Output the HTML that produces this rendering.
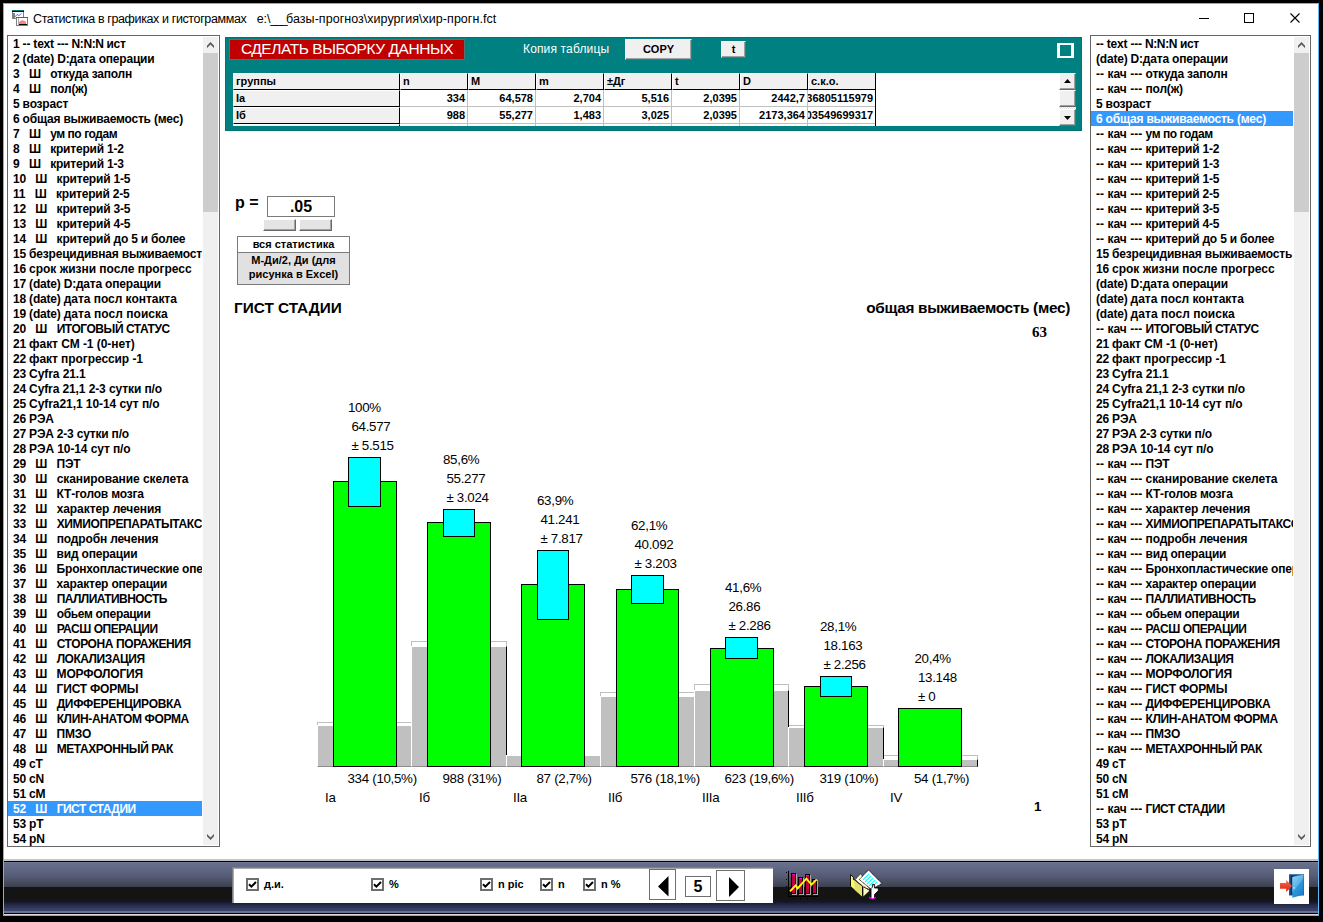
<!DOCTYPE html><html><head><meta charset="utf-8"><title>stat</title><style>
*{box-sizing:border-box;margin:0;padding:0}
html,body{width:1323px;height:922px;overflow:hidden;background:#000;}
body{position:relative;font-family:"Liberation Sans",sans-serif;color:#000;}
.abs{position:absolute}
#win{position:absolute;left:3px;top:3px;width:1316px;height:913px;background:#fff;border:1px solid #62bbf8;}
#title{position:absolute;left:33px;top:12px;font-size:12.5px;line-height:15px;white-space:pre;color:#000;}
.lb{position:absolute;top:35px;height:812px;border:1px solid #666;background:#fff;overflow:hidden;}
.lb .rows{position:absolute;left:0;top:0;}
.lb .r{height:15px;line-height:17px;font-size:12px;font-weight:bold;white-space:pre;padding-left:5px;letter-spacing:-0.2px;overflow:hidden;}
.lb .sel{background:#3399ff;color:#fff;}
.lb .foc{outline:1px dotted #d07018;outline-offset:-1px;}
.sb{position:absolute;top:1px;right:1px;width:15px;height:808px;background:#f0f0f0;}
.sb .th{position:absolute;left:0;width:15px;background:#cdcdcd;}
.tx{position:absolute;white-space:pre;}
.ct{position:absolute;white-space:pre;font-size:13.33px;line-height:16px;height:16px;letter-spacing:-0.3px;}
.b3{position:absolute;background:#f0f0f0;border-top:1px solid #fff;border-left:1px solid #fff;border-right:1px solid #696969;border-bottom:1px solid #696969;box-shadow:inset -1px -1px 0 #a0a0a0;}
</style></head><body>
<div id="win"></div>
<svg class="abs" style="left:12px;top:9px" width="17" height="18" viewBox="0 0 17 18" shape-rendering="crispEdges"><rect x="0" y="1" width="12" height="9" fill="#808080"/><rect x="1" y="2" width="10" height="7" fill="#fff"/><rect x="0" y="1" width="12" height="1" fill="#008080"/><rect x="0" y="2" width="12" height="1" fill="#000"/><rect x="1" y="4" width="2" height="5" fill="#808080"/><polyline points="2.5,8.5 5,5.5 7,6.5 9.5,4.5" fill="none" stroke="#6868ff" stroke-width="1" shape-rendering="auto"/><rect x="4" y="8" width="12" height="9" fill="#808080"/><rect x="5" y="9" width="10" height="7" fill="#fff"/><rect x="4" y="8" width="12" height="1" fill="#008080"/><rect x="5" y="9" width="2" height="7" fill="#fff"/><rect x="6" y="9" width="1" height="7" fill="#b0b0b0"/><path d="M7 15 L7 13 Q10.5 9.5 14 13 L14 15 Z" fill="#ff8080" shape-rendering="auto"/><rect x="7" y="15" width="8" height="1" fill="#000"/></svg>
<div id="title"><span style="letter-spacing:-0.38px">Статистика в графиках и гистограммах</span>   <span style="letter-spacing:-0.12px">e:\</span><span style="letter-spacing:-1.7px">___</span><span style="letter-spacing:0.04px">базы-прогноз\хирургия\хир-прогн.fct</span></div>
<svg class="abs" style="left:1190px;top:8px" width="120" height="22" viewBox="0 0 120 22"><rect x="9" y="10" width="10" height="1" fill="#000"/><rect x="54.5" y="5.5" width="9" height="9" fill="none" stroke="#000" stroke-width="1"/><path d="M100.5 5.5 L109.5 14.5 M109.5 5.5 L100.5 14.5" stroke="#000" stroke-width="1.1" fill="none"/></svg>
<div class="lb" style="left:7px;width:213px"><div class="rows" style="width:194px">
<div class="r">1 -- text --- <span style="letter-spacing:-0.378px">N:N:N ист</span></div>
<div class="r">2 (date) D:дата операции</div>
<div class="r">3   Ш   откуда заполн</div>
<div class="r">4   Ш   пол(ж)</div>
<div class="r">5 возраст</div>
<div class="r">6 общая выживаемость (мес)</div>
<div class="r">7   Ш   <span style="letter-spacing:-0.436px">ум по годам</span></div>
<div class="r">8   Ш   критерий 1-2</div>
<div class="r">9   Ш   критерий 1-3</div>
<div class="r">10   Ш   критерий 1-5</div>
<div class="r">11   Ш   критерий 2-5</div>
<div class="r">12   Ш   критерий 3-5</div>
<div class="r">13   Ш   критерий 4-5</div>
<div class="r">14   Ш   критерий до 5 и более</div>
<div class="r">15 безрецидивная выживаемость</div>
<div class="r">16 <span style="letter-spacing:-0.024px">срок жизни после прогресс</span></div>
<div class="r">17 (date) D:дата операции</div>
<div class="r">18 (date) <span style="letter-spacing:-0.033px">дата посл контакта</span></div>
<div class="r">19 (date) <span style="letter-spacing:0.037px">дата посл поиска</span></div>
<div class="r">20   Ш   <span style="letter-spacing:-0.447px">ИТОГОВЫЙ СТАТУС</span></div>
<div class="r">21 <span style="letter-spacing:-0.050px">факт СМ -1 (0-нет)</span></div>
<div class="r">22 <span style="letter-spacing:-0.078px">факт прогрессир -1</span></div>
<div class="r">23 <span style="letter-spacing:-0.080px">Cyfra 21.1</span></div>
<div class="r">24 <span style="letter-spacing:-0.104px">Cyfra 21,1 2-3 сутки п/о</span></div>
<div class="r">25 <span style="letter-spacing:-0.065px">Cyfra21,1 10-14 сут п/о</span></div>
<div class="r">26 РЭА</div>
<div class="r">27 РЭА 2-3 сутки п/о</div>
<div class="r">28 <span style="letter-spacing:-0.100px">РЭА 10-14 сут п/о</span></div>
<div class="r">29   Ш   ПЭТ</div>
<div class="r">30   Ш   <span style="letter-spacing:-0.065px">сканирование скелета</span></div>
<div class="r">31   Ш   КТ-голов мозга</div>
<div class="r">32   Ш   <span style="letter-spacing:-0.062px">характер лечения</span></div>
<div class="r">33   Ш   <span style="letter-spacing:-0.350px">ХИМИОПРЕПАРАТЫТАКСОЛ</span></div>
<div class="r">34   Ш   <span style="letter-spacing:-0.133px">подробн лечения</span></div>
<div class="r">35   Ш   вид операции</div>
<div class="r">36   Ш   Бронхопластические операции</div>
<div class="r">37   Ш   характер операции</div>
<div class="r">38   Ш   <span style="letter-spacing:-0.557px">ПАЛЛИАТИВНОСТЬ</span></div>
<div class="r">39   Ш   <span style="letter-spacing:-0.314px">обьем операции</span></div>
<div class="r">40   Ш   <span style="letter-spacing:-0.462px">РАСШ ОПЕРАЦИИ</span></div>
<div class="r">41   Ш   <span style="letter-spacing:-0.400px">СТОРОНА ПОРАЖЕНИЯ</span></div>
<div class="r">42   Ш   <span style="letter-spacing:-0.473px">ЛОКАЛИЗАЦИЯ</span></div>
<div class="r">43   Ш   МОРФОЛОГИЯ</div>
<div class="r">44   Ш   ГИСТ ФОРМЫ</div>
<div class="r">45   Ш   <span style="letter-spacing:-0.307px">ДИФФЕРЕНЦИРОВКА</span></div>
<div class="r">46   Ш   <span style="letter-spacing:-0.353px">КЛИН-АНАТОМ ФОРМА</span></div>
<div class="r">47   Ш   ПМЗО</div>
<div class="r">48   Ш   <span style="letter-spacing:-0.400px">МЕТАХРОННЫЙ РАК</span></div>
<div class="r">49 cT</div>
<div class="r">50 cN</div>
<div class="r">51 cM</div>
<div class="r sel">52   Ш   <span style="letter-spacing:-0.473px">ГИСТ СТАДИИ</span></div>
<div class="r">53 pT</div>
<div class="r">54 pN</div>
</div>
<div class="sb"><div class="th" style="top:16px;height:159px"></div><svg class="abs" style="left:0;top:0" width="15" height="16"><path d="M4 11 L4 8.7 L7.5 5 L11 8.7 L11 11 L7.5 7.5 Z" fill="#555"/></svg><svg class="abs" style="left:0;bottom:0" width="15" height="16"><path d="M4 5 L4 7.3 L7.5 11 L11 7.3 L11 5 L7.5 8.5 Z" fill="#555"/></svg></div></div>
<div class="lb" style="left:1090px;width:221px"><div class="rows" style="width:202px">
<div class="r">-- text --- <span style="letter-spacing:-0.378px">N:N:N ист</span></div>
<div class="r">(date) D:дата операции</div>
<div class="r"><span style="letter-spacing:0.02px">-- кач --- </span>откуда заполн</div>
<div class="r"><span style="letter-spacing:0.02px">-- кач --- </span>пол(ж)</div>
<div class="r">5 возраст</div>
<div class="r sel foc">6 общая выживаемость (мес)</div>
<div class="r"><span style="letter-spacing:0.02px">-- кач --- </span><span style="letter-spacing:-0.436px">ум по годам</span></div>
<div class="r"><span style="letter-spacing:0.02px">-- кач --- </span>критерий 1-2</div>
<div class="r"><span style="letter-spacing:0.02px">-- кач --- </span>критерий 1-3</div>
<div class="r"><span style="letter-spacing:0.02px">-- кач --- </span>критерий 1-5</div>
<div class="r"><span style="letter-spacing:0.02px">-- кач --- </span>критерий 2-5</div>
<div class="r"><span style="letter-spacing:0.02px">-- кач --- </span>критерий 3-5</div>
<div class="r"><span style="letter-spacing:0.02px">-- кач --- </span>критерий 4-5</div>
<div class="r"><span style="letter-spacing:0.02px">-- кач --- </span>критерий до 5 и более</div>
<div class="r">15 безрецидивная выживаемость</div>
<div class="r">16 <span style="letter-spacing:-0.024px">срок жизни после прогресс</span></div>
<div class="r">(date) D:дата операции</div>
<div class="r">(date) <span style="letter-spacing:-0.033px">дата посл контакта</span></div>
<div class="r">(date) <span style="letter-spacing:0.037px">дата посл поиска</span></div>
<div class="r"><span style="letter-spacing:0.02px">-- кач --- </span><span style="letter-spacing:-0.447px">ИТОГОВЫЙ СТАТУС</span></div>
<div class="r">21 <span style="letter-spacing:-0.050px">факт СМ -1 (0-нет)</span></div>
<div class="r">22 <span style="letter-spacing:-0.078px">факт прогрессир -1</span></div>
<div class="r">23 <span style="letter-spacing:-0.080px">Cyfra 21.1</span></div>
<div class="r">24 <span style="letter-spacing:-0.104px">Cyfra 21,1 2-3 сутки п/о</span></div>
<div class="r">25 <span style="letter-spacing:-0.065px">Cyfra21,1 10-14 сут п/о</span></div>
<div class="r">26 РЭА</div>
<div class="r">27 РЭА 2-3 сутки п/о</div>
<div class="r">28 <span style="letter-spacing:-0.100px">РЭА 10-14 сут п/о</span></div>
<div class="r"><span style="letter-spacing:0.02px">-- кач --- </span>ПЭТ</div>
<div class="r"><span style="letter-spacing:0.02px">-- кач --- </span><span style="letter-spacing:-0.065px">сканирование скелета</span></div>
<div class="r"><span style="letter-spacing:0.02px">-- кач --- </span>КТ-голов мозга</div>
<div class="r"><span style="letter-spacing:0.02px">-- кач --- </span><span style="letter-spacing:-0.062px">характер лечения</span></div>
<div class="r"><span style="letter-spacing:0.02px">-- кач --- </span><span style="letter-spacing:-0.350px">ХИМИОПРЕПАРАТЫТАКСОЛ</span></div>
<div class="r"><span style="letter-spacing:0.02px">-- кач --- </span><span style="letter-spacing:-0.133px">подробн лечения</span></div>
<div class="r"><span style="letter-spacing:0.02px">-- кач --- </span>вид операции</div>
<div class="r"><span style="letter-spacing:0.02px">-- кач --- </span>Бронхопластические операции</div>
<div class="r"><span style="letter-spacing:0.02px">-- кач --- </span>характер операции</div>
<div class="r"><span style="letter-spacing:0.02px">-- кач --- </span><span style="letter-spacing:-0.557px">ПАЛЛИАТИВНОСТЬ</span></div>
<div class="r"><span style="letter-spacing:0.02px">-- кач --- </span><span style="letter-spacing:-0.314px">обьем операции</span></div>
<div class="r"><span style="letter-spacing:0.02px">-- кач --- </span><span style="letter-spacing:-0.462px">РАСШ ОПЕРАЦИИ</span></div>
<div class="r"><span style="letter-spacing:0.02px">-- кач --- </span><span style="letter-spacing:-0.400px">СТОРОНА ПОРАЖЕНИЯ</span></div>
<div class="r"><span style="letter-spacing:0.02px">-- кач --- </span><span style="letter-spacing:-0.473px">ЛОКАЛИЗАЦИЯ</span></div>
<div class="r"><span style="letter-spacing:0.02px">-- кач --- </span>МОРФОЛОГИЯ</div>
<div class="r"><span style="letter-spacing:0.02px">-- кач --- </span>ГИСТ ФОРМЫ</div>
<div class="r"><span style="letter-spacing:0.02px">-- кач --- </span><span style="letter-spacing:-0.307px">ДИФФЕРЕНЦИРОВКА</span></div>
<div class="r"><span style="letter-spacing:0.02px">-- кач --- </span><span style="letter-spacing:-0.353px">КЛИН-АНАТОМ ФОРМА</span></div>
<div class="r"><span style="letter-spacing:0.02px">-- кач --- </span>ПМЗО</div>
<div class="r"><span style="letter-spacing:0.02px">-- кач --- </span><span style="letter-spacing:-0.400px">МЕТАХРОННЫЙ РАК</span></div>
<div class="r">49 cT</div>
<div class="r">50 cN</div>
<div class="r">51 cM</div>
<div class="r"><span style="letter-spacing:0.02px">-- кач --- </span><span style="letter-spacing:-0.473px">ГИСТ СТАДИИ</span></div>
<div class="r">53 pT</div>
<div class="r">54 pN</div>
</div>
<div class="sb"><div class="th" style="top:16px;height:159px"></div><svg class="abs" style="left:0;top:0" width="15" height="16"><path d="M4 11 L4 8.7 L7.5 5 L11 8.7 L11 11 L7.5 7.5 Z" fill="#555"/></svg><svg class="abs" style="left:0;bottom:0" width="15" height="16"><path d="M4 5 L4 7.3 L7.5 11 L11 7.3 L11 5 L7.5 8.5 Z" fill="#555"/></svg></div></div>
<div class="abs" style="left:225px;top:37px;width:857px;height:94px;background:#008080;border:1px solid #007373"></div>
<div class="abs" style="left:229px;top:39px;width:236px;height:21px;background:#c00000;border:1px solid #587070;color:#fff;font-size:15.5px;line-height:17px;text-align:center;white-space:pre;letter-spacing:-0.45px">СДЕЛАТЬ ВЫБОРКУ ДАННЫХ</div>
<div class="tx" style="left:523px;top:42px;font-size:12px;line-height:14px;color:#fff;letter-spacing:0.15px">Копия таблицы</div>
<div class="b3" style="left:625px;top:39px;width:67px;height:21px;font-size:11px;font-weight:bold;line-height:18px;text-align:center">COPY</div>
<div class="b3" style="left:721px;top:41px;width:25px;height:17px;font-size:11px;font-weight:bold;line-height:14px;text-align:center">t</div>
<div class="abs" style="left:1057px;top:43px;width:17px;height:15px;border:solid #fff;border-width:2px 3px"></div>
<div class="abs" style="left:233px;top:73px;width:843px;height:53px;background:#fff;overflow:hidden">
<div style="position:absolute;font-size:11px;font-weight:bold;line-height:14px;white-space:pre;overflow:hidden;left:0px;top:0;width:167px;height:17px;background:#f0f0f0;border-top:1px solid #fff;border-left:1px solid #fff;border-right:1px solid #000;border-bottom:1px solid #000;padding-left:2px;">группы</div>
<div style="position:absolute;font-size:11px;font-weight:bold;line-height:14px;white-space:pre;overflow:hidden;left:167px;top:0;width:68px;height:17px;background:#f0f0f0;border-top:1px solid #fff;border-left:1px solid #fff;border-right:1px solid #000;border-bottom:1px solid #000;padding-left:2px;">n</div>
<div style="position:absolute;font-size:11px;font-weight:bold;line-height:14px;white-space:pre;overflow:hidden;left:235px;top:0;width:68px;height:17px;background:#f0f0f0;border-top:1px solid #fff;border-left:1px solid #fff;border-right:1px solid #000;border-bottom:1px solid #000;padding-left:2px;">M</div>
<div style="position:absolute;font-size:11px;font-weight:bold;line-height:14px;white-space:pre;overflow:hidden;left:303px;top:0;width:68px;height:17px;background:#f0f0f0;border-top:1px solid #fff;border-left:1px solid #fff;border-right:1px solid #000;border-bottom:1px solid #000;padding-left:2px;">m</div>
<div style="position:absolute;font-size:11px;font-weight:bold;line-height:14px;white-space:pre;overflow:hidden;left:371px;top:0;width:68px;height:17px;background:#f0f0f0;border-top:1px solid #fff;border-left:1px solid #fff;border-right:1px solid #000;border-bottom:1px solid #000;padding-left:2px;">±Дг</div>
<div style="position:absolute;font-size:11px;font-weight:bold;line-height:14px;white-space:pre;overflow:hidden;left:439px;top:0;width:68px;height:17px;background:#f0f0f0;border-top:1px solid #fff;border-left:1px solid #fff;border-right:1px solid #000;border-bottom:1px solid #000;padding-left:2px;">t</div>
<div style="position:absolute;font-size:11px;font-weight:bold;line-height:14px;white-space:pre;overflow:hidden;left:507px;top:0;width:68px;height:17px;background:#f0f0f0;border-top:1px solid #fff;border-left:1px solid #fff;border-right:1px solid #000;border-bottom:1px solid #000;padding-left:2px;">D</div>
<div style="position:absolute;font-size:11px;font-weight:bold;line-height:14px;white-space:pre;overflow:hidden;left:575px;top:0;width:68px;height:17px;background:#f0f0f0;border-top:1px solid #fff;border-left:1px solid #fff;border-right:1px solid #000;border-bottom:1px solid #000;padding-left:2px;">с.к.о.</div>
<div style="position:absolute;font-size:11px;font-weight:bold;line-height:14px;white-space:pre;overflow:hidden;left:0;top:17px;width:167px;height:17px;background:#f0f0f0;border-top:1px solid #fff;border-left:1px solid #fff;border-right:1px solid #000;border-bottom:1px solid #000;padding-left:2px;">Iа</div>
<div style="position:absolute;font-size:11px;font-weight:bold;line-height:14px;white-space:pre;overflow:hidden;left:167px;top:17px;width:68px;height:17px;background:#fff;border-right:1px solid #c0c0c0;border-bottom:1px solid #c0c0c0;text-align:right;padding-right:2px;padding-top:1px;">334</div>
<div style="position:absolute;font-size:11px;font-weight:bold;line-height:14px;white-space:pre;overflow:hidden;left:235px;top:17px;width:68px;height:17px;background:#fff;border-right:1px solid #c0c0c0;border-bottom:1px solid #c0c0c0;text-align:right;padding-right:2px;padding-top:1px;">64,578</div>
<div style="position:absolute;font-size:11px;font-weight:bold;line-height:14px;white-space:pre;overflow:hidden;left:303px;top:17px;width:68px;height:17px;background:#fff;border-right:1px solid #c0c0c0;border-bottom:1px solid #c0c0c0;text-align:right;padding-right:2px;padding-top:1px;">2,704</div>
<div style="position:absolute;font-size:11px;font-weight:bold;line-height:14px;white-space:pre;overflow:hidden;left:371px;top:17px;width:68px;height:17px;background:#fff;border-right:1px solid #c0c0c0;border-bottom:1px solid #c0c0c0;text-align:right;padding-right:2px;padding-top:1px;">5,516</div>
<div style="position:absolute;font-size:11px;font-weight:bold;line-height:14px;white-space:pre;overflow:hidden;left:439px;top:17px;width:68px;height:17px;background:#fff;border-right:1px solid #c0c0c0;border-bottom:1px solid #c0c0c0;text-align:right;padding-right:2px;padding-top:1px;">2,0395</div>
<div style="position:absolute;font-size:11px;font-weight:bold;line-height:14px;white-space:pre;overflow:hidden;left:507px;top:17px;width:68px;height:17px;background:#fff;border-right:1px solid #c0c0c0;border-bottom:1px solid #c0c0c0;text-align:right;padding-right:2px;padding-top:1px;">2442,7</div>
<div style="position:absolute;font-size:11px;font-weight:bold;line-height:14px;white-space:pre;overflow:hidden;left:575px;top:17px;width:68px;height:17px;background:#fff;border-right:1px solid #c0c0c0;border-bottom:1px solid #c0c0c0;text-align:right;padding-right:2px;padding-top:1px;direction:rtl;">36805115979</div>
<div style="position:absolute;font-size:11px;font-weight:bold;line-height:14px;white-space:pre;overflow:hidden;left:0;top:34px;width:167px;height:17px;background:#f0f0f0;border-top:1px solid #fff;border-left:1px solid #fff;border-right:1px solid #000;border-bottom:1px solid #000;padding-left:2px;">Iб</div>
<div style="position:absolute;font-size:11px;font-weight:bold;line-height:14px;white-space:pre;overflow:hidden;left:167px;top:34px;width:68px;height:17px;background:#fff;border-right:1px solid #c0c0c0;border-bottom:1px solid #c0c0c0;text-align:right;padding-right:2px;padding-top:1px;">988</div>
<div style="position:absolute;font-size:11px;font-weight:bold;line-height:14px;white-space:pre;overflow:hidden;left:235px;top:34px;width:68px;height:17px;background:#fff;border-right:1px solid #c0c0c0;border-bottom:1px solid #c0c0c0;text-align:right;padding-right:2px;padding-top:1px;">55,277</div>
<div style="position:absolute;font-size:11px;font-weight:bold;line-height:14px;white-space:pre;overflow:hidden;left:303px;top:34px;width:68px;height:17px;background:#fff;border-right:1px solid #c0c0c0;border-bottom:1px solid #c0c0c0;text-align:right;padding-right:2px;padding-top:1px;">1,483</div>
<div style="position:absolute;font-size:11px;font-weight:bold;line-height:14px;white-space:pre;overflow:hidden;left:371px;top:34px;width:68px;height:17px;background:#fff;border-right:1px solid #c0c0c0;border-bottom:1px solid #c0c0c0;text-align:right;padding-right:2px;padding-top:1px;">3,025</div>
<div style="position:absolute;font-size:11px;font-weight:bold;line-height:14px;white-space:pre;overflow:hidden;left:439px;top:34px;width:68px;height:17px;background:#fff;border-right:1px solid #c0c0c0;border-bottom:1px solid #c0c0c0;text-align:right;padding-right:2px;padding-top:1px;">2,0395</div>
<div style="position:absolute;font-size:11px;font-weight:bold;line-height:14px;white-space:pre;overflow:hidden;left:507px;top:34px;width:68px;height:17px;background:#fff;border-right:1px solid #c0c0c0;border-bottom:1px solid #c0c0c0;text-align:right;padding-right:2px;padding-top:1px;">2173,364</div>
<div style="position:absolute;font-size:11px;font-weight:bold;line-height:14px;white-space:pre;overflow:hidden;left:575px;top:34px;width:68px;height:17px;background:#fff;border-right:1px solid #c0c0c0;border-bottom:1px solid #c0c0c0;text-align:right;padding-right:2px;padding-top:1px;direction:rtl;">03549699317</div>
<div style="position:absolute;left:0;top:51px;width:167px;height:2px;background:#f0f0f0;border-top:1px solid #fff;border-right:1px solid #000"></div>
<div style="position:absolute;left:167px;top:51px;width:68px;height:2px;border-right:1px solid #c0c0c0"></div>
<div style="position:absolute;left:235px;top:51px;width:68px;height:2px;border-right:1px solid #c0c0c0"></div>
<div style="position:absolute;left:303px;top:51px;width:68px;height:2px;border-right:1px solid #c0c0c0"></div>
<div style="position:absolute;left:371px;top:51px;width:68px;height:2px;border-right:1px solid #c0c0c0"></div>
<div style="position:absolute;left:439px;top:51px;width:68px;height:2px;border-right:1px solid #c0c0c0"></div>
<div style="position:absolute;left:507px;top:51px;width:68px;height:2px;border-right:1px solid #c0c0c0"></div>
<div style="position:absolute;left:575px;top:51px;width:68px;height:2px;border-right:1px solid #c0c0c0"></div>
<div style="position:absolute;left:642px;top:0;width:1px;height:53px;background:#000"></div>
<div style="position:absolute;left:826px;top:0;width:17px;height:53px;background:repeating-conic-gradient(#fff 0% 25%, #e0e0e0 0% 50%) 0 0/2px 2px"><div class="b3" style="left:0;top:0;width:17px;height:17px"></div><div class="b3" style="left:0;top:17px;width:17px;height:17px"></div><div class="b3" style="left:0;top:36px;width:17px;height:17px"></div><svg class="abs" style="left:0;top:0" width="17" height="53"><path d="M5 10 L12 10 L8.5 6 Z M5 43 L12 43 L8.5 47 Z" fill="#000"/></svg></div>
</div>
<div class="tx" style="left:235px;top:194px;font-size:16px;font-weight:bold;line-height:18px">p =</div>
<div class="abs" style="left:267px;top:196px;width:68px;height:21px;border:1px solid #7a7a7a;background:#fff;font-size:16px;font-weight:bold;line-height:19px;text-align:center">.05</div>
<div class="b3" style="left:263px;top:219px;width:33px;height:12px;background:#e4e4e4"></div>
<div class="b3" style="left:299px;top:219px;width:33px;height:12px;background:#e4e4e4"></div>
<div class="abs" style="left:237px;top:236px;width:113px;height:17px;border:1px solid #7a7a7a;background:#fff;font-size:11px;font-weight:bold;line-height:15px;text-align:center">вся статистика</div>
<div class="abs" style="left:237px;top:252px;width:113px;height:33px;border:1px solid #7a7a7a;background:#e1e1e1;font-size:11px;font-weight:bold;line-height:14px;text-align:center;padding-top:0px">М-Ди/2, Ди (для<br>рисунка в Excel)</div>
<div class="tx" style="left:234px;top:299px;font-size:15.33px;font-weight:bold;line-height:18px">ГИСТ СТАДИИ</div>
<div class="tx" style="right:253px;top:299px;font-size:15.33px;font-weight:bold;line-height:18px;letter-spacing:-0.3px">общая выживаемость (мес)</div>
<div class="tx" style="left:1032px;top:323px;font-size:15px;font-weight:bold;line-height:18px;font-family:'Liberation Serif',serif">63</div>
<div class="tx" style="left:1034px;top:799px;font-size:13.33px;font-weight:bold;line-height:16px">1</div>
<div class="abs" style="left:317px;top:722px;width:95px;height:45px;border:1px solid #c0c0c0;border-bottom:none"></div>
<div class="abs" style="left:411px;top:641px;width:96px;height:126px;border:1px solid #c0c0c0;border-bottom:none"></div>
<div class="abs" style="left:600px;top:692px;width:95px;height:75px;border:1px solid #c0c0c0;border-bottom:none"></div>
<div class="abs" style="left:694px;top:684px;width:95px;height:83px;border:1px solid #c0c0c0;border-bottom:none"></div>
<div class="abs" style="left:788px;top:725px;width:96px;height:42px;border:1px solid #c0c0c0;border-bottom:none"></div>
<div class="abs" style="left:883px;top:755px;width:95px;height:12px;border:1px solid #c0c0c0;border-bottom:none"></div>
<div class="abs" style="left:317px;top:725px;width:95px;height:42px;background:#c0c0c0;border-left:1px solid #fff;border-top:1px solid #fff;border-right:1px solid #000;border-bottom:1px solid #8c8c8c"></div>
<div class="abs" style="left:411px;top:646px;width:96px;height:121px;background:#c0c0c0;border-left:1px solid #fff;border-top:1px solid #fff;border-right:1px solid #000;border-bottom:1px solid #8c8c8c"></div>
<div class="abs" style="left:506px;top:755px;width:95px;height:12px;background:#c0c0c0;border-left:1px solid #fff;border-top:1px solid #fff;border-right:1px solid #000;border-bottom:1px solid #8c8c8c"></div>
<div class="abs" style="left:600px;top:696px;width:95px;height:71px;background:#c0c0c0;border-left:1px solid #fff;border-top:1px solid #fff;border-right:1px solid #000;border-bottom:1px solid #8c8c8c"></div>
<div class="abs" style="left:694px;top:690px;width:95px;height:77px;background:#c0c0c0;border-left:1px solid #fff;border-top:1px solid #fff;border-right:1px solid #000;border-bottom:1px solid #8c8c8c"></div>
<div class="abs" style="left:788px;top:727px;width:96px;height:40px;background:#c0c0c0;border-left:1px solid #fff;border-top:1px solid #fff;border-right:1px solid #000;border-bottom:1px solid #8c8c8c"></div>
<div class="abs" style="left:883px;top:759px;width:95px;height:8px;background:#c0c0c0;border-left:1px solid #fff;border-top:1px solid #fff;border-right:1px solid #000;border-bottom:1px solid #8c8c8c"></div>
<div class="abs" style="left:333px;top:481px;width:64px;height:286px;background:#00ff00;border:1px solid #000"></div>
<div class="abs" style="left:348px;top:457px;width:33px;height:50px;background:#00ffff;border:1px solid #000"></div>
<div class="ct" style="left:348px;top:399.5px">100%</div>
<div class="ct" style="left:348px;top:418.7px"> 64.577</div>
<div class="ct" style="left:348px;top:438.1px"> ± 5.515</div>
<div class="ct" style="left:347.5px;top:770.5px">334 (10,5%)</div>
<div class="ct" style="left:325px;top:789.7px">Iа</div>
<div class="abs" style="left:427px;top:522px;width:64px;height:245px;background:#00ff00;border:1px solid #000"></div>
<div class="abs" style="left:443px;top:509px;width:32px;height:28px;background:#00ffff;border:1px solid #000"></div>
<div class="ct" style="left:443px;top:451.5px">85,6%</div>
<div class="ct" style="left:443px;top:470.7px"> 55.277</div>
<div class="ct" style="left:443px;top:490.1px"> ± 3.024</div>
<div class="ct" style="left:442.5px;top:770.5px">988 (31%)</div>
<div class="ct" style="left:419px;top:789.7px">Iб</div>
<div class="abs" style="left:521px;top:584px;width:64px;height:183px;background:#00ff00;border:1px solid #000"></div>
<div class="abs" style="left:537px;top:550px;width:32px;height:70px;background:#00ffff;border:1px solid #000"></div>
<div class="ct" style="left:537px;top:492.5px">63,9%</div>
<div class="ct" style="left:537px;top:511.70000000000005px"> 41.241</div>
<div class="ct" style="left:537px;top:531.1px"> ± 7.817</div>
<div class="ct" style="left:536.5px;top:770.5px">87 (2,7%)</div>
<div class="ct" style="left:513px;top:789.7px">IIа</div>
<div class="abs" style="left:616px;top:589px;width:63px;height:178px;background:#00ff00;border:1px solid #000"></div>
<div class="abs" style="left:631px;top:575px;width:33px;height:29px;background:#00ffff;border:1px solid #000"></div>
<div class="ct" style="left:631px;top:517.5px">62,1%</div>
<div class="ct" style="left:631px;top:536.7px"> 40.092</div>
<div class="ct" style="left:631px;top:556.1px"> ± 3.203</div>
<div class="ct" style="left:630.5px;top:770.5px">576 (18,1%)</div>
<div class="ct" style="left:608px;top:789.7px">IIб</div>
<div class="abs" style="left:710px;top:648px;width:64px;height:119px;background:#00ff00;border:1px solid #000"></div>
<div class="abs" style="left:725px;top:637px;width:33px;height:22px;background:#00ffff;border:1px solid #000"></div>
<div class="ct" style="left:725px;top:579.5px">41,6%</div>
<div class="ct" style="left:725px;top:598.7px"> 26.86</div>
<div class="ct" style="left:725px;top:618.1px"> ± 2.286</div>
<div class="ct" style="left:724.5px;top:770.5px">623 (19,6%)</div>
<div class="ct" style="left:702px;top:789.7px">IIIа</div>
<div class="abs" style="left:804px;top:686px;width:64px;height:81px;background:#00ff00;border:1px solid #000"></div>
<div class="abs" style="left:820px;top:676px;width:32px;height:21px;background:#00ffff;border:1px solid #000"></div>
<div class="ct" style="left:820px;top:618.5px">28,1%</div>
<div class="ct" style="left:820px;top:637.7px"> 18.163</div>
<div class="ct" style="left:820px;top:657.1px"> ± 2.256</div>
<div class="ct" style="left:819.5px;top:770.5px">319 (10%)</div>
<div class="ct" style="left:796px;top:789.7px">IIIб</div>
<div class="abs" style="left:898px;top:708px;width:64px;height:59px;background:#00ff00;border:1px solid #000"></div>
<div class="ct" style="left:914.5px;top:650.5px">20,4%</div>
<div class="ct" style="left:914.5px;top:669.7px"> 13.148</div>
<div class="ct" style="left:914.5px;top:689.1px"> ± 0</div>
<div class="ct" style="left:914.0px;top:770.5px">54 (1,7%)</div>
<div class="ct" style="left:890px;top:789.7px">IV</div>
<div class="abs" style="left:4px;top:859px;width:1314px;height:2px;background:#c4c4c4"></div>
<div class="abs" style="left:4px;top:861px;width:1314px;height:1px;background:#000"></div>
<div class="abs" style="left:4px;top:862px;width:1314px;height:49px;background:linear-gradient(to bottom,#7f88a2 0px,#666e8b 1px,#646c89 4px,#565c75 14px,#3c404f 25px,#141414 25px,#141414 37px,#131828 40px,#262c49 43px,#2c3252 45px,#394168 47px,#3a426a 49px)"></div>
<div class="abs" style="left:4px;top:911px;width:1314px;height:2px;background:#6b7191"></div>
<div class="abs" style="left:4px;top:913px;width:1314px;height:1px;background:#000"></div>
<div class="abs" style="left:4px;top:914px;width:1314px;height:1px;background:#d8d8d8"></div>
<div class="abs" style="left:232px;top:867px;width:541px;height:36px;background:#fff;border-top:1px solid #808080;border-left:1px solid #808080;box-shadow:inset 1px 1px 0 #a8a8a8"></div>
<div class="abs" style="left:246px;top:878px;width:13px;height:13px;border:2px solid #6e6e6e;background:#fff"></div>
<svg class="abs" style="left:246px;top:878px" width="13" height="13"><path d="M3 6.2 L5.4 8.6 L10 4" fill="none" stroke="#000" stroke-width="2"/></svg>
<div class="tx" style="left:264px;top:877px;font-size:11px;font-weight:bold;line-height:14px">д.и.</div>
<div class="abs" style="left:371px;top:878px;width:13px;height:13px;border:2px solid #6e6e6e;background:#fff"></div>
<svg class="abs" style="left:371px;top:878px" width="13" height="13"><path d="M3 6.2 L5.4 8.6 L10 4" fill="none" stroke="#000" stroke-width="2"/></svg>
<div class="tx" style="left:389px;top:877px;font-size:11px;font-weight:bold;line-height:14px">%</div>
<div class="abs" style="left:480px;top:878px;width:13px;height:13px;border:2px solid #6e6e6e;background:#fff"></div>
<svg class="abs" style="left:480px;top:878px" width="13" height="13"><path d="M3 6.2 L5.4 8.6 L10 4" fill="none" stroke="#000" stroke-width="2"/></svg>
<div class="tx" style="left:498px;top:877px;font-size:11px;font-weight:bold;line-height:14px">n pic</div>
<div class="abs" style="left:540px;top:878px;width:13px;height:13px;border:2px solid #6e6e6e;background:#fff"></div>
<svg class="abs" style="left:540px;top:878px" width="13" height="13"><path d="M3 6.2 L5.4 8.6 L10 4" fill="none" stroke="#000" stroke-width="2"/></svg>
<div class="tx" style="left:558px;top:877px;font-size:11px;font-weight:bold;line-height:14px">n</div>
<div class="abs" style="left:583px;top:878px;width:13px;height:13px;border:2px solid #6e6e6e;background:#fff"></div>
<svg class="abs" style="left:583px;top:878px" width="13" height="13"><path d="M3 6.2 L5.4 8.6 L10 4" fill="none" stroke="#000" stroke-width="2"/></svg>
<div class="tx" style="left:601px;top:877px;font-size:11px;font-weight:bold;line-height:14px">n %</div>
<div class="abs" style="left:649px;top:869px;width:27px;height:31px;border:1px solid #6e6e6e;background:#fff"></div>
<div class="abs" style="left:685px;top:876px;width:26px;height:21px;border:1px solid #6e6e6e;background:#fff;font-size:16px;font-weight:bold;line-height:19px;text-align:center">5</div>
<div class="abs" style="left:716px;top:870px;width:29px;height:31px;border:1px solid #6e6e6e;background:#fff"></div>
<svg class="abs" style="left:649px;top:869px" width="100" height="34"><path d="M9 17.5 L19.5 7 L19.5 27.5 Z M90 18 L80 8 L80 28 Z" fill="#000"/></svg>
<svg class="abs" style="left:782px;top:866px" width="42" height="36" viewBox="0 0 42 36" shape-rendering="crispEdges"><rect x="6" y="5" width="1" height="26" fill="#000"/><rect x="6" y="30" width="30" height="1" fill="#000"/><rect x="4" y="6" width="1" height="1" fill="#000"/><rect x="4" y="13" width="1" height="1" fill="#000"/><rect x="4" y="20" width="1" height="1" fill="#000"/><rect x="4" y="27" width="1" height="1" fill="#000"/><rect x="11" y="32" width="1" height="1" fill="#000"/><rect x="18" y="32" width="1" height="1" fill="#000"/><rect x="25" y="32" width="1" height="1" fill="#000"/><rect x="32" y="32" width="1" height="1" fill="#000"/><rect x="14" y="8" width="1" height="21" fill="#a8a8a8"/><rect x="10" y="28" width="5" height="1" fill="#a8a8a8"/><rect x="9" y="7" width="5" height="21" fill="#000"/><rect x="10" y="8" width="3" height="19" fill="#c4003c"/><rect x="10" y="8" width="3" height="1" fill="#ff00e0"/><rect x="21" y="12" width="1" height="17" fill="#a8a8a8"/><rect x="17" y="28" width="5" height="1" fill="#a8a8a8"/><rect x="16" y="11" width="5" height="17" fill="#000"/><rect x="17" y="12" width="3" height="15" fill="#c4003c"/><rect x="17" y="12" width="3" height="1" fill="#ff00e0"/><rect x="28" y="9" width="1" height="20" fill="#a8a8a8"/><rect x="24" y="28" width="5" height="1" fill="#a8a8a8"/><rect x="23" y="8" width="5" height="20" fill="#000"/><rect x="24" y="9" width="3" height="18" fill="#c4003c"/><rect x="24" y="9" width="3" height="1" fill="#ff00e0"/><rect x="35" y="14" width="1" height="15" fill="#a8a8a8"/><rect x="31" y="28" width="5" height="1" fill="#a8a8a8"/><rect x="30" y="13" width="5" height="15" fill="#000"/><rect x="31" y="14" width="3" height="13" fill="#c4003c"/><rect x="31" y="14" width="3" height="1" fill="#ff00e0"/><polyline points="8,25.3 13.5,19.5 15.6,22.4 24.4,12.6 29.5,18.6 34.8,13.3" fill="none" stroke="#ffff00" stroke-width="1.9" shape-rendering="auto"/></svg>
<svg class="abs" style="left:846px;top:866px" width="42" height="36" viewBox="0 0 42 36"><path d="M4.5 8.6 L7.4 11.4 L7.4 13.4 L16.4 20.6 L16.4 31.2 L4.5 20.4 Z" fill="#fbf870" stroke="#000" stroke-width="0.9"/><path d="M8 14 L16 20.5 L16 30.5 L9 24 Z" fill="#e4e070" stroke="none"/><path d="M17 20.5 L24 24.6 L17 31.2 Z" fill="#fffcc0" stroke="#000" stroke-width="0.7"/><path d="M9 13.6 L14.5 8.1 L19 12 L24 24 L17 20.4 Z" fill="#fffde0" stroke="#000" stroke-width="0.8" stroke-dasharray="1.2 0.5"/><path d="M13.3 13.5 L22.5 3.9 L35.9 17.4 L25.5 23.6 Z" fill="#fff" stroke="#000" stroke-width="0.9" stroke-dasharray="1.3 0.45"/><path d="M17.2 13.7 L22.9 8.2 M19.1 15.6 L24.8 10.2 M21.3 17.6 L26.8 12.3 M23.4 19.5 L28.9 14.3 M29.3 17.6 L30.9 16.2" stroke="#00ffff" stroke-width="1.1" stroke-linecap="round"/><path d="M26.4 18.4 L28.6 18.4 L28.6 22 L32.3 22 L32.3 24.8 L28.6 28.4 L28.6 33.6 L25 33.6 L25 22.6 L26.4 21.2 Z" fill="#fff" stroke="#000" stroke-width="0.9"/><rect x="26.9" y="18.9" width="1.2" height="1.4" fill="#00d0e0"/><path d="M23.2 31 Q27 34.6 29.9 31" fill="none" stroke="#ff00ff" stroke-width="1.1"/></svg>
<div class="abs" style="left:1274px;top:869px;width:35px;height:35px;background:#fff"></div>
<svg class="abs" style="left:1274px;top:869px" width="35" height="35" viewBox="0 0 35 35"><defs><linearGradient id="dg" x1="0.2" y1="0" x2="0.8" y2="1"><stop offset="0" stop-color="#8ad0f4"/><stop offset="0.45" stop-color="#5ab4e6"/><stop offset="0.5" stop-color="#2e98dc"/><stop offset="1" stop-color="#1c7cc8"/></linearGradient><linearGradient id="rg" x1="0" y1="0" x2="0" y2="1"><stop offset="0" stop-color="#f47058"/><stop offset="0.5" stop-color="#ec4428"/><stop offset="1" stop-color="#d42810"/></linearGradient></defs><path d="M15 5.2 L30 5.2 L30 26.5 L15 26.5 Z" fill="#1e5c94"/><path d="M16.6 6.6 L22 6.4 L18.3 8.2 L18.3 26 L16.6 26 Z" fill="#0c2f5c"/><path d="M18.3 8 L29.5 5.5 L29.5 25.7 L18.3 28.7 Z" fill="url(#dg)"/><path d="M6 14.1 L12.2 14.1 L12.2 10.9 L18.1 17 L12.2 23 L12.2 19.8 L6 19.8 Z" fill="url(#rg)"/><circle cx="20" cy="19" r="0.8" fill="#d8f0ff"/></svg>
</body></html>
